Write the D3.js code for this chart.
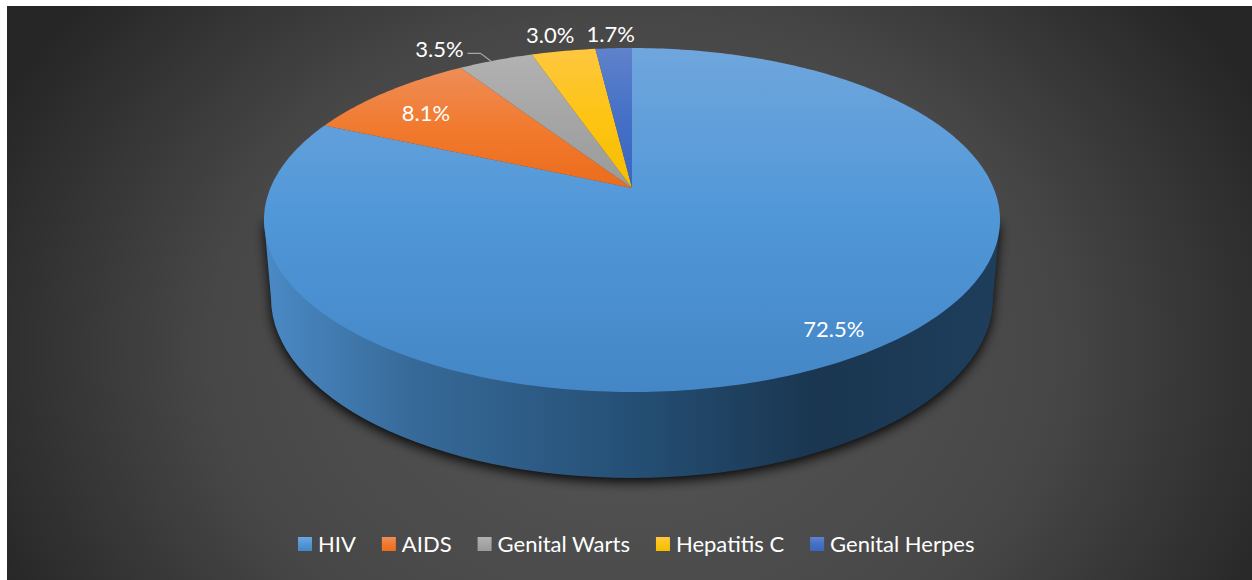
<!DOCTYPE html>
<html>
  <head>
    <meta charset="utf-8">
    <title>Share by condition</title>
    <script src="https://d3js.org/d3.v7.min.js"></script>
    <style>
      html, body { margin:0; background:#fff; overflow:hidden; }
      svg { display:block; }
      text { font-family:Lato, "Open Sans", sans-serif; fill:#fff; font-size:22px; }
    </style>
  </head>
  <body>
    <script>
    // Values as printed on the labels (they sum to 88.8, the pie normalises them)
    var categories = ["HIV", "AIDS", "Genital Warts", "Hepatitis C", "Genital Herpes"];
    var shares = [72.5, 8.1, 3.5, 3.0, 1.7];

    // top -> bottom colour of each slice
    var sliceTop = ["#6fa6dd", "#ee8d58", "#b2b2b2", "#ffc740", "#5f82cc"];
    var sliceMid = ["#5097d8", "#f17a2e", "#a5a5a5", "#fdc413", "#4570c6"];
    var sliceBottom = ["#4486c6", "#ec6c1c", "#9a9a9a", "#f5bd00", "#3a66c0"];

    var width = 1252, height = 580;

    // Pie top is an ellipse seen in perspective: the apex sits above its middle
    var cx = 632, cy = 220, rx = 368, ry = 172, tilt = 0.186;
    // Lower rim of the cylinder
    var lowY = 298, lowRx = 361, lowRy = 180;

    var svg = d3.select("body").append("svg")
        .attr("width", width)
        .attr("height", height);
    var defs = svg.append("defs");

    var bg = defs.append("radialGradient")
        .attr("id", "bg")
        .attr("gradientUnits", "userSpaceOnUse")
        .attr("cx", 0).attr("cy", 0).attr("r", 1)
        .attr("gradientTransform", "translate(632 350) scale(700 560)");
    bg.append("stop").attr("offset", 0).attr("stop-color", "#575757");
    bg.append("stop").attr("offset", 0.6).attr("stop-color", "#474747");
    bg.append("stop").attr("offset", 1).attr("stop-color", "#262626");

    var wall = defs.append("linearGradient")
        .attr("id", "wall")
        .attr("gradientUnits", "userSpaceOnUse")
        .attr("x1", 264).attr("x2", 1000).attr("y1", 0).attr("y2", 0);
    wall.append("stop").attr("offset", 0).attr("stop-color", "#4a8ac6");
    wall.append("stop").attr("offset", 0.2).attr("stop-color", "#376a99");
    wall.append("stop").attr("offset", 0.5).attr("stop-color", "#254f75");
    wall.append("stop").attr("offset", 0.75).attr("stop-color", "#1a3650");
    wall.append("stop").attr("offset", 1).attr("stop-color", "#1e3e5c");

    var blur = defs.append("filter")
        .attr("id", "shadow")
        .attr("x", "-10%").attr("y", "-10%")
        .attr("width", "120%").attr("height", "120%");
    blur.append("feGaussianBlur").attr("stdDeviation", 6);

    categories.forEach(function(c, i) {
      var g = defs.append("linearGradient")
          .attr("id", "slice" + i)
          .attr("x1", 0).attr("x2", 0).attr("y1", 0).attr("y2", 1);
      g.append("stop").attr("offset", 0).attr("stop-color", sliceTop[i]);
      g.append("stop").attr("offset", 0.5).attr("stop-color", sliceMid[i]);
      g.append("stop").attr("offset", 1).attr("stop-color", sliceBottom[i]);
    });

    // Background leaves a white strip on the top and left
    svg.append("rect")
        .attr("x", 7).attr("y", 6)
        .attr("width", width - 7).attr("height", height - 6)
        .attr("fill", "url(#bg)");

    // Flat pie angle + radius -> screen point
    function project(angle, r) {
      var u = r * Math.sin(angle), v = r * Math.cos(angle);
      var w = 1 + tilt * v;
      return [
        cx + rx * Math.sqrt(1 - tilt * tilt) * u / w,
        cy - ry * (v + tilt) / w
      ];
    }

    var arcs = d3.pie().sort(null)(shares);
    var line = d3.line();

    function slicePath(d) {
      var steps = Math.max(2, Math.ceil((d.endAngle - d.startAngle) * 60));
      var pts = d3.range(steps + 1).map(function(k) {
        return project(d.startAngle + (d.endAngle - d.startAngle) * k / steps, 1);
      });
      return line([project(0, 0)].concat(pts)) + "Z";
    }

    // Cylinder wall, with its shadow behind it
    var wallPath = "M" + (cx - rx) + "," + cy +
        "L" + (cx - lowRx) + "," + lowY +
        "A" + lowRx + "," + lowRy + " 0 0 0 " + (cx + lowRx) + "," + lowY +
        "L" + (cx + rx) + "," + cy + "Z";

    svg.append("path")
        .attr("d", wallPath)
        .attr("fill", "#000")
        .attr("opacity", 0.9)
        .attr("filter", "url(#shadow)")
        .attr("transform", "translate(0,4)");
    svg.append("path")
        .attr("d", wallPath)
        .attr("fill", "url(#wall)");

    svg.selectAll("path.slice")
      .data(arcs)
      .enter()
      .append("path")
      .attr("class", "slice")
      .attr("d", slicePath)
      .attr("fill", function(d, i) { return "url(#slice" + i + ")"; });

    // Labels: inside the slice for the big two, just outside the rim for the rest
    var labelAt = [
      { r: 0.875, dx: 2, dy: -1 },
      { r: 0.8, dx: -5, dy: 3 },
      { r: 1, dx: -56, dy: -12 },
      { r: 1, dx: -13, dy: -17 },
      { r: 1, dx: -3, dy: -15 }
    ];

    function mid(d) { return (d.startAngle + d.endAngle) / 2; }

    svg.selectAll("text.label")
      .data(arcs)
      .enter()
      .append("text")
      .attr("class", "label")
      .attr("text-anchor", "middle")
      .attr("dominant-baseline", "central")
      .attr("x", function(d, i) { return project(mid(d), labelAt[i].r)[0] + labelAt[i].dx; })
      .attr("y", function(d, i) { return project(mid(d), labelAt[i].r)[1] + labelAt[i].dy; })
      .text(function(d) { return d.value.toFixed(1) + "%"; });

    // Leader line for the grey slice
    var rim = project(mid(arcs[2]), 1);
    svg.append("path")
        .attr("d", line([[rim[0] - 28, rim[1] - 7], [rim[0] - 15, rim[1] - 7], [rim[0] - 3, rim[1] + 2]]))
        .attr("fill", "none")
        .attr("stroke", "#a6a6a6")
        .attr("stroke-width", 1.2);

    // Legend, laid out left to right from the measured text widths
    var legend = svg.append("g");
    var legendX = 298;
    categories.forEach(function(c, i) {
      legend.append("rect")
          .attr("x", legendX).attr("y", 537)
          .attr("width", 14).attr("height", 14)
          .attr("fill", "url(#slice" + i + ")");
      var t = legend.append("text")
          .attr("x", legendX + 20).attr("y", 552)
          .text(c);
      legendX += 20 + t.node().getComputedTextLength() + 26;
    });
    </script>
  </body>
</html>
